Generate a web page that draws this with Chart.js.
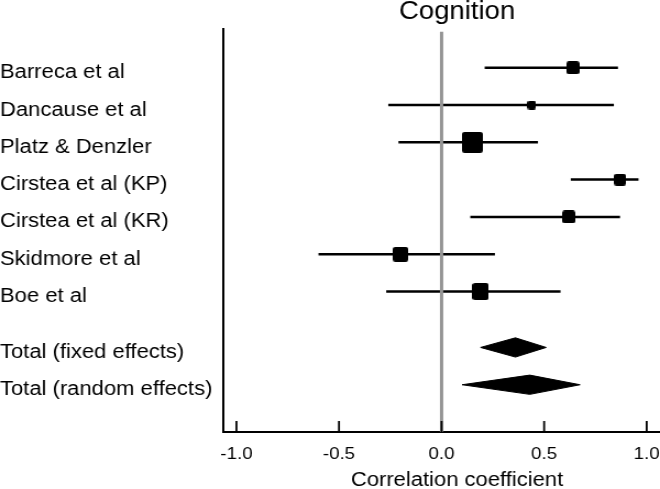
<!DOCTYPE html>
<html>
<head>
<meta charset="utf-8">
<script src="https://cdn.jsdelivr.net/npm/chart.js@4.4.1/dist/chart.umd.min.js"></script>
<style>
    html, body { margin: 0; padding: 0; background: #fff; overflow: hidden; width: 660px; height: 489px; }
    /* the original figure is a little wider than tall in its lettering, so stretch the whole canvas */
    #wrap { position: absolute; left: 0; top: 0; width: 628px; height: 489px; transform: scaleX(1.1); transform-origin: 0 0; }
</style>
</head>
<body>
<div id="wrap"><canvas id="forest"></canvas></div>
<script>
const studies = ['Barreca et al', 'Dancause et al', 'Platz & Denzler', 'Cirstea et al (KP)', 'Cirstea et al (KR)', 'Skidmore et al', 'Boe et al'];
const estimate = [0.64, 0.44, 0.15, 0.87, 0.62, -0.20, 0.19];
const lower = [0.21, -0.26, -0.21, 0.63, 0.14, -0.60, -0.27];
const upper = [0.86, 0.84, 0.47, 0.96, 0.87, 0.26, 0.58];
const weight = [11.1, 5.3, 29.1, 10.0, 10.6, 15.4, 18.5];

const totals = ['Total (fixed effects)', 'Total (random effects)'];
const totalEstimate = [0.36, 0.43];
const totalLower = [0.19, 0.10];
const totalUpper = [0.51, 0.675];

const xTicks = [-1.0, -0.5, 0.0, 0.5, 1.0];

const STRETCH = 1.1;
const studyRows = studies.map((_, i) => i);
const totalRows = totals.map((_, i) => studies.length + 0.5 + i);
const rowLabels = studies.concat(totals);
const rows = studyRows.concat(totalRows);
const halfDiamond = 0.258;

Chart.defaults.font.family = '"Liberation Sans", Arial, sans-serif';
Chart.defaults.color = '#000';

// square markers, narrowed so they come out square after the stretch
function box(side) {
    const c = document.createElement('canvas');
    c.width = Math.round(side / STRETCH);
    c.height = Math.round(side);
    const g = c.getContext('2d');
    g.fillStyle = '#000';
    g.beginPath();
    if (g.roundRect) g.roundRect(0, 0, c.width, c.height, Math.min(2.5, side / 4));
    else g.rect(0, 0, c.width, c.height);
    g.fill();
    return c;
}

const datasets = [];

studies.forEach((s, i) => {
    datasets.push({
        label: s,
        data: [{ x: lower[i], y: studyRows[i] }, { x: upper[i], y: studyRows[i] }],
        showLine: true,
        borderColor: '#000',
        borderWidth: 2.5,
        pointRadius: 0
    });
});

const sides = weight.map(w => 3.89 * Math.sqrt(w));
datasets.push({
    label: 'estimates',
    data: estimate.map((v, i) => ({ x: v, y: studyRows[i] })),
    pointStyle: sides.map(box),
    pointRadius: sides.map(s => s / 2),
    backgroundColor: '#000',
    borderWidth: 0
});

totals.forEach((t, i) => {
    const r = totalRows[i];
    datasets.push({
        label: t,
        data: [
            { x: totalLower[i], y: r },
            { x: totalEstimate[i], y: r - halfDiamond },
            { x: totalUpper[i], y: r },
            { x: totalEstimate[i], y: r + halfDiamond },
            { x: totalLower[i], y: r }
        ],
        showLine: true,
        fill: 'shape',
        backgroundColor: '#000',
        borderColor: '#000',
        borderWidth: 1,
        pointRadius: 0,
        tension: 0
    });
});

const refLines = {
    id: 'refLines',
    afterDatasetsDraw(chart) {
        const { ctx, chartArea, scales: { x } } = chart;
        ctx.save();
        const x0 = x.getPixelForValue(0);
        ctx.strokeStyle = '#959595';
        ctx.lineWidth = 3;
        ctx.beginPath();
        ctx.moveTo(x0, chartArea.top + 3);
        ctx.lineTo(x0, chartArea.bottom);
        ctx.stroke();

        ctx.strokeStyle = '#000';
        ctx.lineWidth = 1.8;
        xTicks.forEach(v => {
            const px = x.getPixelForValue(v);
            ctx.beginPath();
            ctx.moveTo(px, chartArea.bottom);
            ctx.lineTo(px, chartArea.bottom - 11);
            ctx.stroke();
        });
        ctx.restore();
    }
};

new Chart(document.getElementById('forest'), {
    type: 'scatter',
    data: { datasets },
    plugins: [refLines],
    options: {
        responsive: true,
        maintainAspectRatio: false,
        animation: false,
        layout: { padding: 0, autoPadding: false },
        plugins: {
            legend: { display: false },
            tooltip: { enabled: false },
            title: {
                display: true,
                text: 'Cognition',
                fullSize: false,
                color: '#000',
                font: { size: 25, weight: 'normal', lineHeight: 1 },
                padding: { top: 0, bottom: 3.8 }
            }
        },
        scales: {
            x: {
                type: 'linear',
                position: 'bottom',
                min: -1.064,
                max: 1.215,
                grid: { display: false },
                border: { display: true, color: '#000', width: 2 },
                afterBuildTicks: s => { s.ticks = xTicks.map(v => ({ value: v })); },
                afterFit: s => { s.height = 57; s.paddingLeft = 0; s.paddingRight = 0; },
                ticks: {
                    padding: 4,
                    font: { size: 17 },
                    color: '#000',
                    callback: v => v.toFixed(1)
                },
                title: {
                    display: true,
                    text: 'Correlation coefficient',
                    color: '#000',
                    font: { size: 20, lineHeight: 0.8 },
                    padding: { top: 0, bottom: 1 }
                }
            },
            y: {
                type: 'linear',
                position: 'left',
                reverse: true,
                min: -1.043,
                max: 9.767,
                grid: { display: false },
                border: { display: true, color: '#000', width: 2 },
                afterBuildTicks: s => { s.ticks = rows.map(v => ({ value: v })); },
                afterFit: s => { s.width = 203; s.paddingTop = 0; s.paddingBottom = 0; },
                ticks: {
                    autoSkip: false,
                    crossAlign: 'far',
                    labelOffset: 5,
                    padding: 0,
                    font: { size: 20 },
                    color: '#000',
                    callback: (v, i) => rowLabels[i]
                }
            }
        }
    }
});
</script>
</body>
</html>
